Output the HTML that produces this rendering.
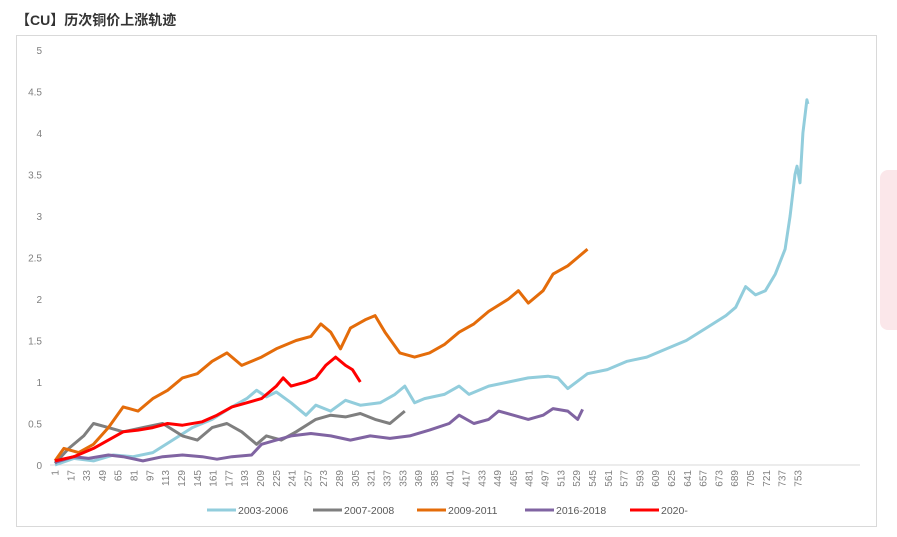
<!DOCTYPE html>
<html><head><meta charset="utf-8"><style>
body{margin:0;width:897px;height:537px;background:#fff;overflow:hidden;font-family:"Liberation Sans","Noto Sans CJK SC",sans-serif}
#title{position:absolute;left:16px;top:10px;font-size:14px;font-weight:bold;color:#333}
#frame{position:absolute;left:16px;top:35px;width:861px;height:492px;border:1px solid #d9d9d9;box-sizing:border-box}
#pink{position:absolute;left:880px;top:170px;width:17px;height:160px;background:#fbe7ea;border-radius:8px 0 0 8px}
svg{position:absolute;left:0;top:0}
</style></head><body>
<div id="title">【CU】历次铜价上涨轨迹</div>
<div id="frame"></div>
<div id="pink"></div>
<svg id="chart" width="897" height="537"></svg>
<script>
const yTicks=[0,0.5,1,1.5,2,2.5,3,3.5,4,4.5,5];
const seriesNames=["2003-2006","2007-2008","2009-2011","2016-2018","2020-"];
const seriesColors=["#92cddc","#7f7f7f","#e46c0a","#8064a2","#ff0000"];
const s2003=[[1,0],[20,0.08],[40,0.05],[60,0.12],[80,0.1],[100,0.15],[120,0.3],[140,0.45],[160,0.55],[180,0.7],[195,0.8],[205,0.9],[215,0.82],[225,0.88],[240,0.75],[255,0.6],[265,0.72],[280,0.65],[295,0.78],[310,0.72],[330,0.75],[345,0.85],[355,0.95],[365,0.75],[375,0.8],[395,0.85],[410,0.95],[420,0.85],[440,0.95],[460,1.0],[480,1.05],[500,1.07],[510,1.05],[520,0.92],[540,1.1],[560,1.15],[580,1.25],[600,1.3],[620,1.4],[640,1.5],[660,1.65],[680,1.8],[690,1.9],[700,2.15],[710,2.05],[720,2.1],[730,2.3],[740,2.6],[745,3.0],[750,3.5],[752,3.6],[755,3.4],[758,4.0],[762,4.4],[763,4.35]];
const s2007=[[1,0.02],[15,0.2],[30,0.35],[40,0.5],[55,0.45],[70,0.4],[90,0.45],[110,0.5],[130,0.35],[145,0.3],[160,0.45],[175,0.5],[190,0.4],[205,0.25],[215,0.35],[230,0.3],[245,0.4],[265,0.55],[280,0.6],[295,0.58],[310,0.62],[325,0.55],[340,0.5],[355,0.65]];
const s2009=[[1,0.05],[10,0.2],[25,0.15],[40,0.25],[55,0.45],[70,0.7],[85,0.65],[100,0.8],[115,0.9],[130,1.05],[145,1.1],[160,1.25],[175,1.35],[190,1.2],[210,1.3],[225,1.4],[245,1.5],[260,1.55],[270,1.7],[280,1.6],[290,1.4],[300,1.65],[315,1.75],[325,1.8],[335,1.6],[350,1.35],[365,1.3],[380,1.35],[395,1.45],[410,1.6],[425,1.7],[440,1.85],[460,2.0],[470,2.1],[480,1.95],[495,2.1],[505,2.3],[520,2.4],[530,2.5],[540,2.6]];
const s2016=[[1,0.03],[20,0.1],[35,0.08],[55,0.12],[70,0.1],[90,0.05],[110,0.1],[130,0.12],[150,0.1],[165,0.07],[180,0.1],[200,0.12],[210,0.25],[225,0.3],[240,0.35],[260,0.38],[280,0.35],[300,0.3],[320,0.35],[340,0.32],[360,0.35],[380,0.42],[400,0.5],[410,0.6],[425,0.5],[440,0.55],[450,0.65],[465,0.6],[480,0.55],[495,0.6],[505,0.68],[520,0.65],[530,0.55],[535,0.67]];
const s2020=[[1,0.05],[20,0.1],[40,0.2],[55,0.3],[70,0.4],[85,0.42],[100,0.45],[115,0.5],[130,0.48],[150,0.52],[165,0.6],[180,0.7],[195,0.75],[210,0.8],[225,0.95],[232,1.05],[240,0.95],[255,1.0],[265,1.05],[275,1.2],[285,1.3],[295,1.2],[302,1.15],[310,1.0]];
const allSeries=[s2003,s2007,s2009,s2016,s2020];
const xTickStart=1,xTickStep=16,xTickEnd=753;

const svg=document.getElementById('chart');const NS='http://www.w3.org/2000/svg';
const X=i=>55+(i-1)*0.988, Y=v=>465-v*83;
function mk(t,a){const e=document.createElementNS(NS,t);for(const k in a)e.setAttribute(k,a[k]);svg.appendChild(e);return e;}
const ax=mk('line',{x1:50,x2:860,y1:465,y2:465,stroke:'#d9d9d9'});


yTicks.forEach(v=>{const t=mk('text',{x:42,y:Y(v)+4,'text-anchor':'end','font-size':10,fill:'#7f7f7f'});t.textContent=v;

});
for(let i=xTickStart;i<=xTickEnd;i+=xTickStep){const x=X(i);const t=mk('text',{x:0,y:0,transform:`translate(${x+3.5},${470}) rotate(-90)`,'text-anchor':'end','font-size':10,fill:'#7f7f7f'});t.textContent=i;

}
allSeries.forEach((s,k)=>{const p=mk('polyline',{points:s.map(d=>X(d[0]).toFixed(1)+','+Y(d[1]).toFixed(1)).join(' '),fill:'none',stroke:seriesColors[k],'stroke-width':3,'stroke-linejoin':'round'});

});
const lx=[207,313,417,525,630];
seriesNames.forEach((n,k)=>{const l=mk('line',{x1:lx[k],x2:lx[k]+29,y1:510,y2:510,stroke:seriesColors[k],'stroke-width':3});


const t=mk('text',{x:lx[k]+31,y:514,'font-size':10.5,fill:'#595959'});t.textContent=n;

});
</script>
</body></html>
